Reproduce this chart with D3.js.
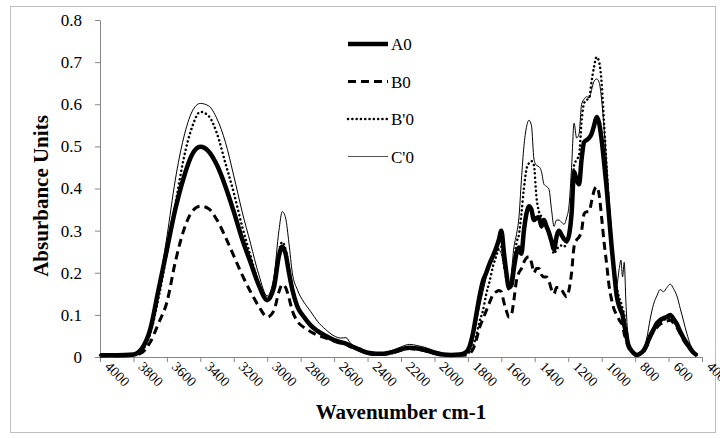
<!DOCTYPE html>
<html>
<head>
<meta charset="utf-8">
<script src="https://cdn.jsdelivr.net/npm/d3@7"></script>
<style>
  body { margin: 0; background: #fff; }
</style>
</head>
<body>
<svg width="720" height="438"></svg>
<script>
// wavenumbers (cm-1), shared by all spectra
const wavenumbers = [
  4000, 3900, 3800, 3750, 3700, 3650, 3600, 3550, 3500, 3450,
  3400, 3350, 3300, 3250, 3200, 3150, 3100, 3050, 3000, 2960,
  2930, 2910, 2890, 2870, 2850, 2820, 2780, 2740, 2700, 2650,
  2600, 2560, 2530, 2500, 2450, 2400, 2350, 2300, 2250, 2200,
  2150, 2100, 2050, 2000, 1950, 1900, 1850, 1810, 1790, 1770,
  1750, 1730, 1710, 1690, 1670, 1650, 1630, 1615, 1600, 1585,
  1570, 1555, 1540, 1525, 1510, 1495, 1480, 1465, 1450, 1435,
  1420, 1405, 1390, 1375, 1360, 1345, 1330, 1315, 1300, 1285,
  1270, 1255, 1240, 1225, 1210, 1195, 1180, 1165, 1150, 1135,
  1120, 1105, 1090, 1075, 1060, 1045, 1030, 1015, 1000, 985,
  970, 955, 940, 925, 910, 895, 885, 875, 865, 855,
  845, 830, 810, 790, 770, 750, 730, 710, 690, 670,
  650, 630, 610, 590, 570, 550, 530, 510, 490, 470,
  450, 430
];

const a0 = [
  0.004, 0.004, 0.006, 0.02, 0.065, 0.16, 0.255, 0.35, 0.425, 0.48,
  0.499, 0.488, 0.455, 0.405, 0.345, 0.28, 0.225, 0.17, 0.135, 0.165,
  0.24, 0.262, 0.245, 0.2, 0.16, 0.12, 0.095, 0.075, 0.062, 0.05,
  0.04, 0.035, 0.032, 0.026, 0.018, 0.01, 0.008, 0.008, 0.012, 0.018,
  0.022, 0.02, 0.016, 0.01, 0.006, 0.005, 0.006, 0.012, 0.025, 0.055,
  0.1, 0.145, 0.18, 0.2, 0.222, 0.24, 0.26, 0.278, 0.3, 0.25,
  0.2, 0.165, 0.17, 0.21, 0.245, 0.26, 0.245, 0.3, 0.34, 0.358,
  0.35, 0.325, 0.33, 0.332, 0.31, 0.325, 0.31, 0.295, 0.275, 0.255,
  0.285, 0.3, 0.29, 0.28, 0.275, 0.29, 0.34, 0.44, 0.42, 0.41,
  0.47, 0.51, 0.515, 0.52, 0.53, 0.55, 0.57, 0.555, 0.515, 0.46,
  0.4, 0.33, 0.26, 0.2, 0.145, 0.12, 0.11, 0.1, 0.075, 0.06,
  0.035, 0.02, 0.01, 0.005, 0.008, 0.015, 0.03, 0.05, 0.065, 0.08,
  0.088, 0.092, 0.095, 0.1, 0.09, 0.078, 0.06, 0.045, 0.032, 0.02,
  0.01, 0.004
];

const b0 = [
  0.003, 0.003, 0.004, 0.01, 0.035, 0.08, 0.13, 0.225, 0.3, 0.345,
  0.358, 0.352, 0.325, 0.285, 0.24, 0.195, 0.155, 0.12, 0.095, 0.11,
  0.155, 0.172, 0.165, 0.14, 0.11, 0.085, 0.07, 0.06, 0.052, 0.045,
  0.038, 0.032, 0.03, 0.024, 0.016, 0.008, 0.006, 0.007, 0.01, 0.016,
  0.02, 0.018, 0.014, 0.008, 0.005, 0.004, 0.004, 0.005, 0.008, 0.018,
  0.04, 0.07, 0.09, 0.11, 0.13, 0.148, 0.155, 0.158, 0.155, 0.13,
  0.11, 0.095, 0.1, 0.135, 0.18, 0.2, 0.21, 0.225, 0.235, 0.238,
  0.225, 0.2, 0.21, 0.21, 0.195, 0.19, 0.19, 0.18, 0.16, 0.15,
  0.165, 0.165, 0.16, 0.15, 0.143, 0.16, 0.2, 0.262, 0.278, 0.285,
  0.3, 0.34, 0.345, 0.345, 0.37, 0.395, 0.404, 0.385, 0.33, 0.27,
  0.22, 0.167, 0.135, 0.112, 0.1, 0.088, 0.082, 0.075, 0.055, 0.042,
  0.028, 0.015, 0.008, 0.004, 0.006, 0.012, 0.025, 0.045, 0.06, 0.07,
  0.078, 0.082, 0.085, 0.087, 0.08, 0.07, 0.055, 0.04, 0.028, 0.018,
  0.01, 0.004
];

const bp0 = [
  0.004, 0.004, 0.005, 0.015, 0.055, 0.14, 0.245, 0.36, 0.47, 0.545,
  0.582, 0.572, 0.53, 0.46, 0.39, 0.31, 0.24, 0.175, 0.14, 0.17,
  0.25, 0.273, 0.255, 0.21, 0.165, 0.125, 0.098, 0.078, 0.063, 0.05,
  0.04, 0.035, 0.032, 0.026, 0.018, 0.01, 0.008, 0.008, 0.012, 0.018,
  0.022, 0.02, 0.016, 0.01, 0.006, 0.005, 0.005, 0.008, 0.012, 0.025,
  0.05, 0.085, 0.11, 0.15, 0.18, 0.215, 0.24, 0.258, 0.262, 0.22,
  0.185, 0.16, 0.175, 0.225, 0.27, 0.29, 0.34, 0.4, 0.445, 0.46,
  0.465, 0.455, 0.38, 0.345, 0.333, 0.32, 0.31, 0.29, 0.265, 0.245,
  0.255, 0.262, 0.265, 0.262, 0.27, 0.29, 0.36, 0.455, 0.468, 0.48,
  0.56, 0.603, 0.61, 0.615, 0.655, 0.69, 0.712, 0.7, 0.65, 0.55,
  0.45, 0.355, 0.27, 0.2, 0.165, 0.14, 0.13, 0.115, 0.1, 0.07,
  0.04, 0.02, 0.008, 0.004, 0.007, 0.014, 0.028, 0.048, 0.062, 0.075,
  0.082, 0.088, 0.09, 0.092, 0.085, 0.073, 0.058, 0.043, 0.03, 0.019,
  0.01, 0.004
];

const cp0 = [
  0.004, 0.004, 0.006, 0.022, 0.07, 0.165, 0.285, 0.42, 0.52, 0.582,
  0.602, 0.596, 0.565, 0.51, 0.43, 0.345, 0.27, 0.195, 0.145, 0.19,
  0.3, 0.345, 0.33, 0.27, 0.2, 0.16, 0.13, 0.108, 0.085, 0.065,
  0.05, 0.045, 0.046, 0.032, 0.022, 0.014, 0.01, 0.011, 0.016, 0.024,
  0.03, 0.027, 0.022, 0.015, 0.009, 0.007, 0.007, 0.012, 0.02, 0.04,
  0.08, 0.12, 0.155, 0.19, 0.225, 0.245, 0.25, 0.254, 0.245, 0.215,
  0.19, 0.17, 0.2, 0.26, 0.29, 0.33, 0.42, 0.5, 0.545, 0.562,
  0.55, 0.47, 0.455, 0.452, 0.44, 0.41, 0.405, 0.398, 0.35, 0.31,
  0.325, 0.325, 0.32, 0.315, 0.33, 0.36, 0.45, 0.555, 0.52, 0.53,
  0.6, 0.612, 0.618, 0.615, 0.635, 0.655, 0.66, 0.652, 0.61, 0.54,
  0.46, 0.37, 0.29, 0.22, 0.17, 0.21, 0.23, 0.19, 0.225, 0.13,
  0.06, 0.025, 0.01, 0.005, 0.01, 0.02, 0.045, 0.09, 0.125, 0.145,
  0.16, 0.155, 0.165, 0.173, 0.162, 0.145, 0.115, 0.085, 0.055, 0.03,
  0.014, 0.005
];

const seriesNames = ["A0", "B0", "B'0", "C'0"];
const xTicks = d3.range(4000, 399, -200);
const yTicks = [0, 0.1, 0.2, 0.3, 0.4, 0.5, 0.6, 0.7, 0.8];

const serif = "'Liberation Serif', 'Times New Roman', Times, 'DejaVu Serif', serif";

const svg = d3.select("svg").attr("font-family", serif);
const plotLeft = 100, plotRight = 702, plotTop = 20, plotBottom = 357;

// outer chart frame
svg.append("rect")
    .attr("x", 10.5).attr("y", 6.5)
    .attr("width", 705).attr("height", 426)
    .attr("fill", "none")
    .attr("stroke", "#bfbfbf");

const x = d3.scaleLinear().domain([4000, 400]).range([plotLeft, plotRight]);
const y = d3.scaleLinear().domain([0, 0.8]).range([plotBottom, plotTop]);

// axes
const xAxis = svg.append("g")
    .attr("transform", `translate(0,${plotBottom})`)
    .call(d3.axisBottom(x).tickValues(xTicks).tickSize(5).tickSizeOuter(0).tickFormat(d3.format("d")));
xAxis.attr("font-family", serif);
xAxis.selectAll("text")
    .attr("font-size", 14)
    .attr("text-anchor", "start")
    .attr("x", 10).attr("y", 0).attr("dy", "0.35em")
    .attr("transform", "rotate(45)");

const yAxis = svg.append("g")
    .attr("transform", `translate(${plotLeft},0)`)
    .call(d3.axisLeft(y).tickValues(yTicks).tickSize(5).tickSizeOuter(0).tickPadding(13)
        .tickFormat(d => d === 0 ? "0" : d3.format(".1f")(d)));
yAxis.attr("font-family", serif);
yAxis.selectAll("text").attr("font-size", 17);

svg.selectAll(".domain, .tick line").attr("stroke", "#868686");

// axis titles
svg.append("text")
    .attr("x", 401).attr("y", 419)
    .attr("text-anchor", "middle")
    .attr("font-family", serif)
    .attr("font-size", 21).attr("font-weight", "bold")
    .text("Wavenumber cm-1");

svg.append("text")
    .attr("transform", "translate(48,196) rotate(-90)")
    .attr("text-anchor", "middle")
    .attr("font-family", serif)
    .attr("font-size", 21).attr("font-weight", "bold")
    .text("Absurbance Units");

// spectra
const styles = [
  { width: 4.5, dash: null, cap: "butt" },
  { width: 3, dash: "8,5", cap: "butt" },
  { width: 2.5, dash: "0.1,4.2", cap: "round" },
  { width: 1, dash: null, cap: "butt" }
];
const seriesValues = [a0, b0, bp0, cp0];

const line = d3.line()
    .x((d, i) => x(wavenumbers[i]))
    .y(d => y(d))
    .curve(d3.curveMonotoneX);

// draw thin line last so it stays visible on top
[1, 2, 0, 3].forEach(k => {
  svg.append("path")
      .attr("d", line(seriesValues[k]))
      .attr("fill", "none")
      .attr("stroke", "#000")
      .attr("stroke-width", styles[k].width)
      .attr("stroke-dasharray", styles[k].dash)
      .attr("stroke-linecap", styles[k].cap)
      .attr("stroke-linejoin", "round");
});

// legend
const legend = svg.append("g");
seriesNames.forEach((name, k) => {
  const ly = 44 + k * 37.5;
  legend.append("line")
      .attr("x1", 348).attr("x2", 388)
      .attr("y1", ly).attr("y2", ly)
      .attr("stroke", k === 3 ? "#555" : "#000")
      .attr("stroke-width", styles[k].width)
      .attr("stroke-dasharray", styles[k].dash)
      .attr("stroke-linecap", styles[k].cap);
  legend.append("text")
      .attr("x", 391).attr("y", ly + 6)
      .attr("font-family", serif)
      .attr("font-size", 17)
      .text(name);
});
</script>
</body>
</html>
